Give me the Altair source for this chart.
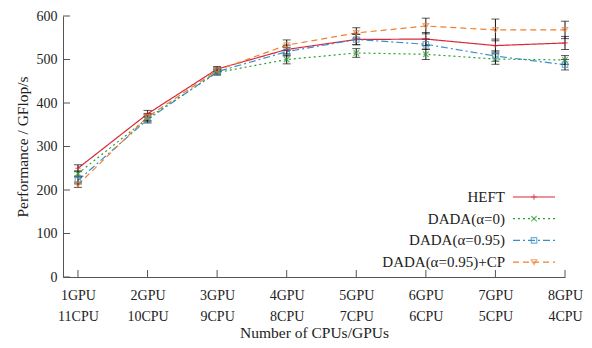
import json
import altair as alt
import pandas as pd

# ---------------- data ----------------
gpu_labels = ["1GPU", "2GPU", "3GPU", "4GPU", "5GPU", "6GPU", "7GPU", "8GPU"]
cpu_labels = ["11CPU", "10CPU", "9CPU", "8CPU", "7CPU", "6CPU", "5CPU", "4CPU"]
x_index = [1, 2, 3, 4, 5, 6, 7, 8]

series_names = ["HEFT", "DADA(α=0)", "DADA(α=0.95)", "DADA(α=0.95)+CP"]

heft = [250, 375, 478, 523, 546, 547, 532, 538]
heft_err = [8, 8, 6, 10, 12, 15, 15, 15]

dada0 = [238, 365, 470, 500, 515, 512, 501, 499]
dada0_err = [6, 8, 6, 10, 10, 12, 12, 10]

dada095 = [222, 362, 472, 518, 546, 535, 508, 488]
dada095_err = [8, 8, 6, 10, 12, 12, 12, 12]

dadacp = [212, 368, 475, 533, 561, 577, 568, 568]
dadacp_err = [6, 8, 6, 12, 12, 18, 25, 20]

y_ticks = [0, 100, 200, 300, 400, 500, 600]

colors = ["#d8283a", "#2ca02c", "#3a8fc8", "#f08030"]
dashes = [[1, 0], [2, 3], [7, 3, 2, 3], [6, 4]]
shapes = [
    "M-1,0L1,0M0,-1L0,1",
    "M-1,-1L1,1M-1,1L1,-1",
    "square",
    "triangle-down",
]

values = [heft, dada0, dada095, dadacp]
errors = [heft_err, dada0_err, dada095_err, dadacp_err]

rows = []
for name, vals, errs in zip(series_names, values, errors):
    for xi, v, e in zip(x_index, vals, errs):
        rows.append({"series": name, "x": xi, "y": v, "lo": v - e, "hi": v + e})
df = pd.DataFrame(rows)

FONT = "'Liberation Serif', 'DejaVu Serif', serif"
W, H = 502, 261

labexpr = "[{g}[datum.value-1], {c}[datum.value-1]]".format(
    g=json.dumps(gpu_labels), c=json.dumps(cpu_labels)
)

xscale = alt.Scale(domain=[0.785, 8], nice=False, zero=False)
yscale = alt.Scale(domain=[0, 600], nice=False)

x_enc = alt.X(
    "x:Q",
    scale=xscale,
    axis=alt.Axis(
        values=x_index,
        labelExpr=labexpr,
        title="Number of CPUs/GPUs",
        grid=False,
        ticks=False,
        labelPadding=11,
        labelLineHeight=21,
        labelFont=FONT,
        labelFontSize=14,
        labelColor="#222",
        titleFont=FONT,
        titleFontSize=15.5,
        titleFontWeight="normal",
        titleColor="#222",
        titlePadding=2,
        domainColor="#555",
        labelFlush=False,
        labelBaseline="top",
    ),
)
y_enc = alt.Y(
    "y:Q",
    scale=yscale,
    axis=alt.Axis(
        values=y_ticks,
        title="Performance / GFlop/s",
        grid=False,
        ticks=False,
        labelPadding=6,
        labelFont=FONT,
        labelFontSize=14,
        labelColor="#222",
        titleFont=FONT,
        titleFontSize=15.5,
        titleFontWeight="normal",
        titleColor="#222",
        titlePadding=6,
        domainColor="#555",
    ),
)

color_enc = alt.Color("series:N", scale=alt.Scale(domain=series_names, range=colors), legend=None)
dash_enc = alt.StrokeDash("series:N", scale=alt.Scale(domain=series_names, range=dashes), legend=None)
shape_enc = alt.Shape("series:N", scale=alt.Scale(domain=series_names, range=shapes), legend=None)

base = alt.Chart(df)

lines = base.mark_line(strokeWidth=1.2).encode(
    x=x_enc, y=y_enc, color=color_enc, strokeDash=dash_enc, detail="series:N"
)
err_rule = base.mark_rule(color="#111", strokeWidth=1).encode(
    x="x:Q", y="lo:Q", y2="hi:Q"
)
cap_lo = base.mark_tick(color="#111", orient="horizontal", size=8, thickness=1).encode(
    x="x:Q", y="lo:Q"
)
cap_hi = base.mark_tick(color="#111", orient="horizontal", size=8, thickness=1).encode(
    x="x:Q", y="hi:Q"
)
points = base.mark_point(filled=False, size=30, strokeWidth=1.2).encode(
    x="x:Q", y="y:Q", color=color_enc, shape=shape_enc
)

# inward axis ticks
ytick_df = pd.DataFrame({"v": y_ticks})
yticks = alt.Chart(ytick_df).mark_rule(color="#555").encode(
    y="v:Q", x=alt.value(0), x2=alt.value(7)
)
xtick_df = pd.DataFrame({"v": x_index})
xticks = alt.Chart(xtick_df).mark_rule(color="#555").encode(
    x="v:Q", y=alt.value(H), y2=alt.value(H - 7)
)

# manual legend (labels left of samples, gnuplot style)
legend_layers = []
leg_y0, leg_dy = 181, 21.7
for i, name in enumerate(series_names):
    yy = leg_y0 + i * leg_dy
    ldf = pd.DataFrame({"series": [name]})
    lb = alt.Chart(ldf)
    legend_layers.append(
        lb.mark_text(align="right", baseline="middle", font=FONT, fontSize=15, color="#222").encode(
            text="series:N", x=alt.value(442), y=alt.value(yy)
        )
    )
    legend_layers.append(
        lb.mark_rule(color=colors[i], strokeWidth=1.2, strokeDash=dashes[i]).encode(
            x=alt.value(450), x2=alt.value(492), y=alt.value(yy)
        )
    )
    legend_layers.append(
        lb.mark_point(filled=False, size=30, strokeWidth=1.2, color=colors[i], shape=shapes[i]).encode(
            x=alt.value(471), y=alt.value(yy)
        )
    )

chart = alt.layer(
    yticks, xticks, lines, err_rule, cap_lo, cap_hi, points, *legend_layers
).properties(
    width=W,
    height=H,
    autosize=alt.AutoSizeParams(type="none"),
    padding={"left": 55, "top": 8, "right": 19, "bottom": 63},
    background="white",
).configure_view(stroke=None)

chart.save("out.html", embed_options={"renderer": "svg", "actions": False})
